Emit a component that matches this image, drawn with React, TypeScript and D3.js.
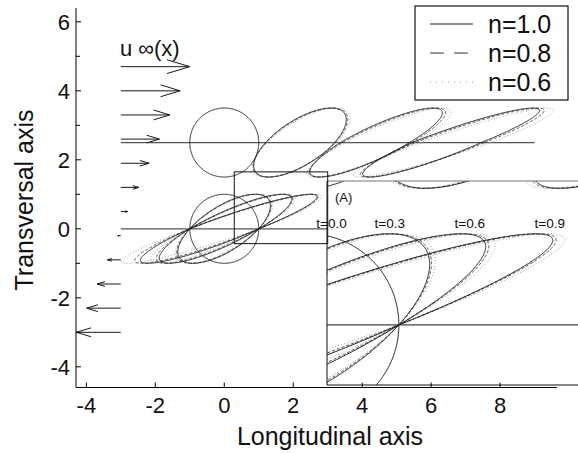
import React from "react";
import * as d3 from "d3";

const W = 578;
const H = 453;

// Fluids (power-law index) and snapshot times
const fluidLabels = ["n=1.0", "n=0.8", "n=0.6"];
const timeLabels = ["t=0.0", "t=0.3", "t=0.6", "t=0.9"];
const timeLabelX = [0.26, 0.9, 1.78, 2.66];

// Shear of the drop outline above / below its centre line.
// Rows: n=1.0, n=0.8, n=0.6 ; columns: t=0.3, t=0.6, t=0.9
const shearAbove = [
  [0.89, 1.68, 2.5],
  [0.92, 1.72, 2.54],
  [0.98, 1.8, 2.64],
];
const shearBelow = [
  [0.9, 1.6, 2.22],
  [0.95, 1.7, 2.4],
  [1.02, 1.88, 2.8],
];
// Downstream drift of the upper drop centre
const upperDrift = [
  [2.2, 4.37, 6.45],
  [2.22, 4.43, 6.55],
  [2.25, 4.52, 6.72],
];
const dropCentreY = [0, 2.5];
const dropRadius = 1;

// Far-field velocity profile u∞ sampled at x = -3
const arrowX0 = -3;
const arrowY = [4.7, 4.0, 3.3, 2.6, 1.9, 1.2, 0.5, -0.2, -0.9, -1.6, -2.3, -3.0];
const arrowU = [2.0, 1.72, 1.42, 1.12, 0.82, 0.52, 0.2, -0.09, -0.39, -0.69, -0.99, -1.29];

// Streamlines through the drop centres
const streamStart = -3;
const streamEnd = [3.0, 9.0];

const xTicks = [-4, -2, 0, 2, 4, 6, 8];
const yTicks = [-4, -2, 0, 2, 4, 6];
const yMinorTicks = [-3, -1, 1, 3, 5];

// Zoom window (A)
const zoomBox = { x0: 0.29, x1: 3.0, y0: -0.43, y1: 1.65 };

const FONT = "'Liberation Sans', Arial, Helvetica, sans-serif";

const styles = [
  { stroke: "#1a1a1a", dash: undefined as string | undefined, width: 1, legendDash: undefined as string | undefined },
  { stroke: "#333", dash: "3,2", width: 0.9, legendDash: "14,10" },
  { stroke: "#9a9a9a", dash: "1,2", width: 1, legendDash: "1,5" },
];

function outline(cx: number, cy: number, gUp: number, gDown: number): [number, number][] {
  return d3.range(0, 721).map((i) => {
    const a = (i * Math.PI) / 360;
    const s = Math.sin(a);
    const c = Math.cos(a);
    const g = s >= 0 ? gUp : gDown;
    return [cx + dropRadius * (c + g * s), cy + dropRadius * s] as [number, number];
  });
}

function buildShapes() {
  // every outline: [points, styleIndex]
  const shapes: { pts: [number, number][]; s: number }[] = [];
  // undeformed drops
  dropCentreY.forEach((cy) => shapes.push({ pts: outline(0, cy, 0, 0), s: 0 }));
  // deformed drops, lighter styles first so solid sits on top
  [2, 1, 0].forEach((f) => {
    for (let k = 0; k < 3; k++) {
      shapes.push({ pts: outline(0, dropCentreY[0], shearAbove[f][k], shearBelow[f][k]), s: f });
      shapes.push({ pts: outline(upperDrift[f][k], dropCentreY[1], shearAbove[f][k], shearBelow[f][k]), s: f });
    }
  });
  return shapes;
}

export default function App() {
  const x = d3.scaleLinear().domain([-4.3, 9.65]).range([76, 557]);
  const y = d3.scaleLinear().domain([-4.6, 6.4]).range([387.5, 8]);

  const xi = d3.scaleLinear().domain([0.21, 2.97]).range([327, 578]);
  const yi = d3.scaleLinear().domain([-0.66, 1.58]).range([385, 181]);

  const lineMain = d3.line<[number, number]>().x((d) => x(d[0])).y((d) => y(d[1]));
  const lineInset = d3.line<[number, number]>().x((d) => xi(d[0])).y((d) => yi(d[1]));

  const shapes = buildShapes();

  const insetL = xi(0.21);
  const insetT = yi(1.58);
  const insetB = yi(-0.66);

  const arrows = arrowY.map((ay, i) => {
    const x0 = x(arrowX0);
    const x1 = x(arrowX0 + arrowU[i]);
    const py = y(ay);
    const len = x1 - x0;
    const h = 0.33 * len;
    const w = 0.1 * Math.abs(len);
    return (
      <path
        key={i}
        d={`M${x0},${py}L${x1},${py}M${x1 - h},${py - w}L${x1},${py}L${x1 - h},${py + w}`}
        fill="none"
        stroke="#1a1a1a"
        strokeWidth={1}
      />
    );
  });

  return (
    <svg width={W} height={H} style={{ position: "absolute", left: 0, top: 0, background: "#fff" }} fontFamily={FONT}>
      <defs>
        <clipPath id="insetClip">
          <rect x={insetL} y={insetT} width={W - insetL} height={insetB - insetT} />
        </clipPath>
      </defs>

      {/* streamlines through the drop centres */}
      {dropCentreY.map((cy, i) => (
        <line key={i} x1={x(streamStart)} x2={x(streamEnd[i])} y1={y(cy)} y2={y(cy)} stroke="#555" strokeWidth={1.3} />
      ))}

      {/* far-field velocity */}
      {arrows}
      <text x={120} y={56} fontSize={22} fill="#111">u ∞(x)</text>

      {/* drop outlines */}
      {shapes.map((sh, i) => (
        <path
          key={i}
          d={lineMain(sh.pts) || ""}
          fill="none"
          stroke={styles[sh.s].stroke}
          strokeWidth={styles[sh.s].width}
          strokeDasharray={styles[sh.s].dash}
        />
      ))}

      {/* magnified view */}
      <rect x={insetL} y={insetT} width={W - insetL} height={insetB - insetT} fill="#fff" />
      <g clipPath="url(#insetClip)">
        <line x1={insetL} x2={W} y1={yi(0)} y2={yi(0)} stroke="#444" strokeWidth={1.2} />
        {shapes.map((sh, i) => (
          <path
            key={i}
            d={lineInset(sh.pts) || ""}
            fill="none"
            stroke={styles[sh.s].stroke}
            strokeWidth={styles[sh.s].width}
            strokeDasharray={styles[sh.s].dash}
          />
        ))}
      </g>
      <line x1={insetL} x2={W} y1={insetT} y2={insetT} stroke="#777" strokeWidth={1.2} />
      <line x1={insetL} x2={insetL} y1={insetT} y2={insetB} stroke="#111" strokeWidth={1} />
      <line x1={insetL} x2={W} y1={insetB} y2={insetB} stroke="#111" strokeWidth={1} />
      <text x={335} y={202} fontSize={13} fill="#111">(A)</text>
      {timeLabels.map((t, i) => (
        <text key={t} x={xi(timeLabelX[i])} y={yi(1.065)} fontSize={13.5} textAnchor="middle" fill="#111">
          {t}
        </text>
      ))}

      {/* zoom window */}
      <rect
        x={x(zoomBox.x0)}
        y={y(zoomBox.y1)}
        width={x(zoomBox.x1) - x(zoomBox.x0)}
        height={y(zoomBox.y0) - y(zoomBox.y1)}
        fill="none"
        stroke="#111"
        strokeWidth={1}
      />

      {/* axes */}
      <line x1={x(-4.3)} x2={x(-4.3)} y1={y(6.4)} y2={y(-4.6)} stroke="#000" strokeWidth={1} />
      <line x1={x(-4.3)} x2={x(9.65)} y1={y(-4.6)} y2={y(-4.6)} stroke="#000" strokeWidth={1} />
      {xTicks.map((t) => (
        <g key={t}>
          <line x1={x(t)} x2={x(t)} y1={y(-4.6)} y2={y(-4.6) - 5} stroke="#000" strokeWidth={1} />
          <text x={x(t)} y={413} fontSize={22} textAnchor="middle" fill="#111">
            {t}
          </text>
        </g>
      ))}
      {yTicks.map((t) => (
        <g key={t}>
          <line x1={x(-4.3)} x2={x(-4.3) + 5} y1={y(t)} y2={y(t)} stroke="#000" strokeWidth={1} />
          <text x={70} y={y(t) + 8} fontSize={22} textAnchor="end" fill="#111">
            {t}
          </text>
        </g>
      ))}
      {yMinorTicks.map((t) => (
        <line key={t} x1={x(-4.3)} x2={x(-4.3) + 4} y1={y(t)} y2={y(t)} stroke="#000" strokeWidth={1} />
      ))}
      <text x={330} y={445} fontSize={25} textAnchor="middle" fill="#111">Longitudinal axis</text>
      <text transform="translate(33,200) rotate(-90)" fontSize={25} textAnchor="middle" fill="#111">
        Transversal axis
      </text>

      {/* legend */}
      <rect x={415} y={6} width={153} height={94} fill="#fff" stroke="#111" strokeWidth={1.2} />
      {fluidLabels.map((lab, i) => (
        <g key={lab}>
          <line
            x1={430}
            x2={473}
            y1={24 + 29 * i}
            y2={24 + 29 * i}
            stroke={styles[i].stroke}
            strokeWidth={1}
            strokeDasharray={styles[i].legendDash}
          />
          <text x={488} y={33 + 29 * i} fontSize={25} fill="#111">
            {lab}
          </text>
        </g>
      ))}
    </svg>
  );
}
